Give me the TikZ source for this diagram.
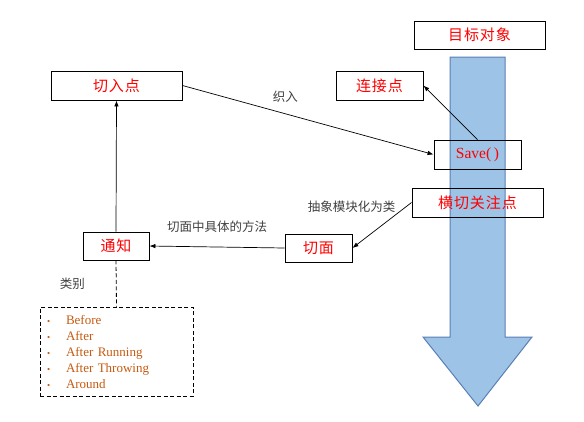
\documentclass[tikz,border=0pt]{standalone}
\usepackage{fontspec}
\setmainfont{Liberation Serif}
\newfontfamily\cjk{Noto Sans CJK SC}
\newfontfamily\cjkwide[LetterSpace=6]{Noto Sans CJK SC}
\usetikzlibrary{arrows.meta, positioning, calc}

\definecolor{flowblue}{HTML}{9DC3E6}
\definecolor{flowedge}{HTML}{5A7FB5}
\definecolor{itemorange}{HTML}{C55A11}
\definecolor{labelgray}{HTML}{404040}

\begin{document}
\begin{tikzpicture}[
    x=1pt, y=-1pt,
    box/.style={draw, line width=0.9pt, minimum height=29pt, inner sep=0pt, text=red, font=\cjkwide\fontsize{15}{15}\selectfont},
    tag/.style={text=labelgray, inner sep=0pt, font=\cjk\fontsize{12.5}{12.5}\selectfont},
    listbox/.style={draw, line width=0.8pt, dash pattern=on 4pt off 2.5pt, minimum width=153pt, minimum height=89pt, text width=139pt, inner xsep=7pt, align=left, text=itemorange, font=\rmfamily\fontsize{13}{16}\selectfont},
    arrow/.style={-{Latex[length=6pt, width=4.5pt]}, line width=0.7pt}
]
    \useasboundingbox (0,0) rectangle (584,421);

    % big flow arrow behind the target object
    \filldraw[fill=flowblue, draw=flowedge, line width=1pt]
        (450,57) -- (505,57) -- (505,337) -- (532,337) -- (478,406) -- (423,337) -- (450,337) -- cycle;

    \node (mubiao) [box, minimum width=131pt, minimum height=28pt] at (479.5,35) {目标对象};
    \node (lianjie) [box, minimum width=87pt] at (379.5,85.5) {连接点};
    \node (save) [box, minimum width=87pt, font=\rmfamily\fontsize{15.5}{15.5}\selectfont] at (477.5,154.5) {Save(\,)};
    \node (hengqie) [box, minimum width=131pt] at (477.5,202.5) {横切关注点};
    \node (ruqie) [box, minimum width=131pt] at (116.5,85.5) {切入点};
    \node (qiemian) [box, minimum width=67pt, minimum height=28pt] at (318.5,248) {切面};
    \node (tongzhi) [box, minimum width=66pt, minimum height=28pt] at (116,246) {通知};
    \node (leibie) [listbox] at (116.5,351.5) {%
        \makebox[19pt][l]{\small\textbullet}Before\\
        \makebox[19pt][l]{\small\textbullet}After\\
        \makebox[19pt][l]{\small\textbullet}After Running\\
        \makebox[19pt][l]{\small\textbullet}After Throwing\\
        \makebox[19pt][l]{\small\textbullet}Around};

    \draw [arrow] (ruqie.east) -- node[tag, pos=0.41, above=11pt] {织入} (save.west);
    \draw [arrow] (save.north) -- (lianjie.east);
    \draw [arrow] (hengqie.west) -- node[tag, pos=0.1, left=10pt] {抽象模块化为类} (qiemian.east);
    \draw [arrow] (qiemian.west) -- node[tag, above=14pt] {切面中具体的方法} (tongzhi.east);
    \draw [arrow] (tongzhi.north) -- (ruqie.south);
    \draw [line width=0.8pt, dash pattern=on 4pt off 2.5pt] (tongzhi.south) -- node[tag, left=31pt] {类别} (leibie.north);
\end{tikzpicture}
\end{document}
